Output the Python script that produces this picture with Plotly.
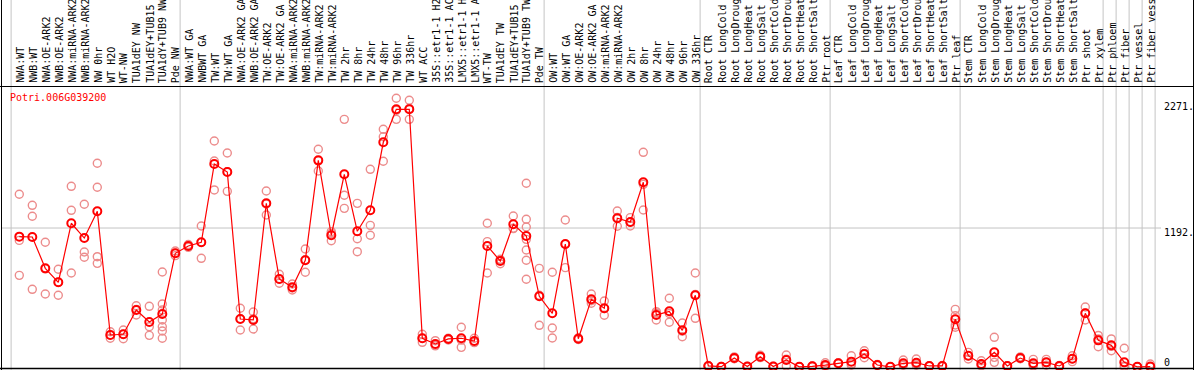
import plotly.graph_objects as go

W, H = 1194, 370

gene = "Potri.006G039200"

samples = [
    "NWA:WT", "NWB:WT", "NWA:OE-ARK2", "NWB:OE-ARK2", "NWA:miRNA-ARK2", "NWB:miRNA-ARK2",
    "NW 0hr", "WT H2O", "WT-NW", "TUA1dEY NW", "TUA1dEY+TUB15 NW", "TUA1dY+TUB9 NW", "Pde NW",
    "NWA:WT GA", "NWBWT GA", "TW:WT", "TW:WT GA", "NWA:OE-ARK2 GA", "NWB:OE-ARK2 GA",
    "TW:OE-ARK2", "TW:OE-ARK2 GA", "NWA:miRNA-ARK2 GA", "NWB:miRNA-ARK2 GA", "TW:miRNA-ARK2",
    "TW:miRNA-ARK2 GA", "TW 2hr", "TW 8hr", "TW 24hr", "TW 48hr", "TW 96hr", "TW 336hr",
    "WT ACC", "35S::etr1-1 H2O", "35S::etr1-1 ACC", "LMX5::etr1-1 H2O", "LMX5::etr1-1 ACC",
    "WT-TW", "TUA1dEY TW", "TUA1dEY+TUB15 TW", "TUA1dY+TUB9 TW", "Pde TW",
    "OW:WT", "OW:WT GA", "OW:OE-ARK2", "OW:OE-ARK2 GA", "OW:miRNA-ARK2", "OW:miRNA-ARK2 GA",
    "OW 2hr", "OW 8hr", "OW 24hr", "OW 48hr", "OW 96hr", "OW 336hr",
    "Root CTR", "Root LongCold", "Root LongDrought", "Root LongHeat", "Root LongSalt",
    "Root ShortCold", "Root ShortDrought", "Root ShortHeat", "Root ShortSalt", "Ptr root",
    "Leaf CTR", "Leaf LongCold", "Leaf LongDrought", "Leaf LongHeat", "Leaf LongSalt",
    "Leaf ShortCold", "Leaf ShortDrought", "Leaf ShortHeat", "Leaf ShortSalt", "Ptr leaf",
    "Stem CTR", "Stem LongCold", "Stem LongDrought", "Stem LongHeat", "Stem LongSalt",
    "Stem ShortCold", "Stem ShortDrought", "Stem ShortHeat", "Stem ShortSalt", "Ptr shoot",
    "Ptr xylem", "Ptr phloem", "Ptr fiber", "Ptr vessel", "Ptr fiber vessel",
]
LABEL_CHARS = 14  # the header band only shows the first 14 characters of each name

means = [
    1118, 1115, 846, 726, 1233, 1106, 1336, 274, 280, 488, 385, 454, 975,
    1038, 1070, 1742, 1673, 411, 403, 1404, 755, 683, 915, 1773, 1130, 1653, 1164, 1344,
    1928, 2211, 2211, 246, 197, 240, 246, 222, 1038, 909, 1224, 1124, 606,
    460, 1055, 242, 580, 503, 1276, 1244, 1585, 446, 477, 314, 615,
    8, 2, 76, 3, 88, 3, 59, 1, 5, 16,
    31, 45, 111, 16, 1, 31, 36, 8, 8, 409,
    96, 25, 125, 8, 76, 31, 39, 8, 70, 460, 228,
    185, 39, 1, 3,
]

replicates = [
    [1482, 1086, 786], [1387, 1293, 666], [1070, 842, 626], [838, 726, 615],
    [1550, 1344, 806], [1396, 986, 941], [1748, 1542, 946, 889], [302, 246, 274],
    [317, 242, 281], [525, 446, 493], [520, 345, 271], [815, 540, 488, 403, 345, 308, 246],
    [995, 955, 975],
    [1050, 1026, 1038], [1209, 932, 1069], [1939, 1767, 1519], [1836, 1676, 1507],
    [503, 413, 317], [471, 413, 325], [1510, 1398, 1304], [795, 752, 718], [712, 677, 660],
    [1012, 921, 812], [1868, 1769, 1682], [1161, 1146, 1083], [2125, 1473, 1361],
    [1404, 1100, 989], [1696, 1215, 1130], [2040, 1976, 1765], [2306, 2202, 2125],
    [2289, 2219, 2125], [280, 246, 211], [225, 185, 181], [246, 231, 243], [340, 230, 168],
    [246, 208, 212], [1233, 1075, 806], [924, 886, 917], [1295, 1190, 1187],
    [1576, 1267, 1201, 1095, 1003, 915, 752], [846, 615, 357],
    [812, 334, 248], [1261, 1052, 852], [250, 235, 241], [626, 568, 546], [566, 500, 443],
    [1338, 1283, 1207], [1281, 1242, 1209], [1842, 1567, 1347], [474, 461, 403],
    [589, 459, 383], [377, 306, 259], [806, 622, 417],
    [12, 5, 8], [3, 1, 2], [86, 70, 72], [4, 2, 3], [100, 80, 84], [5, 2, 2],
    [102, 8, 67], [1, 0, 2], [8, 3, 4], [36, 6, 6],
    [36, 28, 29], [96, 14, 25], [139, 79, 115], [20, 12, 16], [2, 0, 1], [59, 14, 20],
    [68, 14, 26], [10, 6, 8], [12, 5, 7], [494, 440, 360, 340],
    [125, 68, 95], [53, 10, 12], [254, 39, 82], [10, 6, 8], [86, 70, 72], [65, 8, 20],
    [65, 14, 38], [12, 4, 8], [96, 45, 69], [514, 403, 463], [270, 173, 240],
    [240, 139, 176], [160, 8, 0], [2, 0, 1], [25, 0, 2],
]

group_starts = [0, 13, 41, 53, 63, 73, 84, 85, 86, 87, 88]
y_tick_values = [2271, 1192, 0]
y_tick_labels = ["2271.", "1192.", "0"]
grid_value = 1192

# ---- layout geometry (pixels) ----
X0, DX = 19.3, 13.0          # pixel x of first sample, spacing
Y0PX, YSCALE = 366.9, 0.1165  # pixel y of value 0, pixels per unit
PLOT_TOP, PLOT_BOT = 86.0, 368.0
LABEL_BOTTOM = 84.0
MONO = "DejaVu Sans Mono"


def xdata(px):
    return (px - X0) / DX


def ypaper(py):
    return 1 - py / H


def ypix(v):
    return Y0PX - v * YSCALE


fig = go.Figure()

rx, ry = [], []
for i, rs in enumerate(replicates):
    for r in rs:
        rx.append(i)
        ry.append(r)

fig.add_trace(go.Scatter(
    x=rx, y=ry, mode="markers", cliponaxis=False, hoverinfo="skip",
    marker=dict(symbol="circle-open", size=8, color="rgb(236,140,140)", line=dict(width=1.4)),
))
fig.add_trace(go.Scatter(
    x=list(range(len(samples))), y=means, mode="lines+markers", cliponaxis=False,
    line=dict(color="#ff0000", width=1.2),
    marker=dict(symbol="circle-open", size=8, color="#ff0000", line=dict(width=2)),
))

shapes = []
grey = "#c4c4c4"
for g in group_starts:
    shapes.append(dict(type="line", xref="x", yref="paper", x0=g - 0.63, x1=g - 0.63,
                       y0=0, y1=1, line=dict(color=grey, width=1), layer="below"))
shapes.append(dict(type="line", xref="x", yref="y", x0=xdata(1), x1=xdata(1161),
                   y0=grid_value, y1=grid_value, line=dict(color=grey, width=1), layer="below"))
black = "#000000"
shapes += [
    dict(type="line", xref="paper", yref="paper", x0=1.5 / W, x1=1.5 / W, y0=0, y1=1,
         line=dict(color=black, width=1)),
    dict(type="line", xref="paper", yref="paper", x0=1193.5 / W, x1=1193.5 / W, y0=0, y1=1,
         line=dict(color=black, width=1)),
    dict(type="line", xref="paper", yref="paper", x0=0, x1=1, y0=ypaper(86.5), y1=ypaper(86.5),
         line=dict(color=black, width=1)),
    dict(type="line", xref="paper", yref="paper", x0=0, x1=1, y0=ypaper(368.5), y1=ypaper(368.5),
         line=dict(color=black, width=1.5)),
]

annotations = []
for i, name in enumerate(samples):
    annotations.append(dict(
        x=i + 0.5 / DX, xref="x", y=ypaper(LABEL_BOTTOM), yref="paper",
        text=name[:LABEL_CHARS], textangle=-90,
        xanchor="center", yanchor="bottom", showarrow=False, borderpad=0,
        font=dict(family=MONO, size=10, color="black"),
    ))
for v, t in zip(y_tick_values, y_tick_labels):
    cy = min(ypix(v) + 4.0, 362.0)
    annotations.append(dict(
        x=1162.5 / W, xref="paper", y=ypaper(cy), yref="paper", text=t,
        xanchor="left", yanchor="middle", showarrow=False, borderpad=0,
        font=dict(family=MONO, size=10, color="black"),
    ))
annotations.append(dict(
    x=8.5 / W, xref="paper", y=ypaper(97.2), yref="paper", text=gene,
    xanchor="left", yanchor="middle", showarrow=False, borderpad=0,
    font=dict(family=MONO, size=10, color="#ff0000"),
))

fig.update_layout(
    width=W, height=H, margin=dict(l=0, r=0, t=0, b=0),
    paper_bgcolor="white", plot_bgcolor="white", showlegend=False,
    xaxis=dict(range=[xdata(0), xdata(W)], domain=[0, 1], visible=False, fixedrange=True),
    yaxis=dict(range=[(Y0PX - PLOT_BOT) / YSCALE, (Y0PX - PLOT_TOP) / YSCALE],
               domain=[ypaper(PLOT_BOT), ypaper(PLOT_TOP)], visible=False, fixedrange=True),
    shapes=shapes, annotations=annotations,
)

fig.write_html(
    "out.html",
    config={"displayModeBar": False},
    post_script="document.body.style.margin='0';document.body.style.overflow='hidden';",
)
